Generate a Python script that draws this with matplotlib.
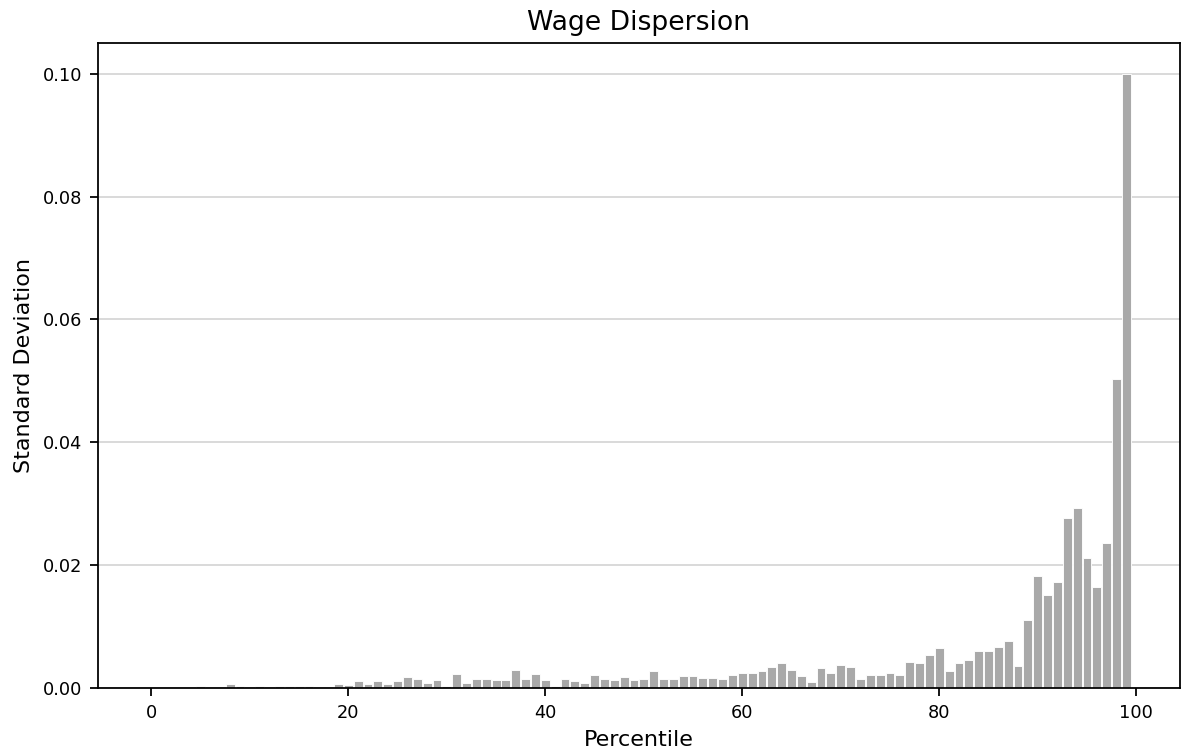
import numpy as np
import matplotlib
matplotlib.use("Agg")
import matplotlib.pyplot as plt

percentiles = list(range(100))
std_dev = [
    0.0000, 0.0000, 0.0000, 0.0000, 0.0000, 0.0003, 0.0000, 0.0000, 0.0006, 0.0003,
    0.0000, 0.0003, 0.0000, 0.0003, 0.0003, 0.0003, 0.0003, 0.0000, 0.0000, 0.0007,
    0.0005, 0.0011, 0.0006, 0.0011, 0.0007, 0.0011, 0.0018, 0.0015, 0.0009, 0.0013,
    0.0004, 0.0023, 0.0009, 0.0015, 0.0015, 0.0013, 0.0013, 0.0029, 0.0015, 0.0023,
    0.0013, 0.0004, 0.0015, 0.0011, 0.0009, 0.0021, 0.0015, 0.0013, 0.0018, 0.0013,
    0.0015, 0.0027, 0.0015, 0.0015, 0.0020, 0.0020, 0.0017, 0.0017, 0.0015, 0.0022,
    0.0024, 0.0024, 0.0027, 0.0035, 0.0040, 0.0029, 0.0020, 0.0010, 0.0033, 0.0024,
    0.0038, 0.0035, 0.0015, 0.0022, 0.0022, 0.0024, 0.0022, 0.0042, 0.0040, 0.0054,
    0.0065, 0.0027, 0.0040, 0.0045, 0.0061, 0.0061, 0.0067, 0.0077, 0.0036, 0.0111,
    0.0183, 0.0152, 0.0172, 0.0277, 0.0293, 0.0211, 0.0165, 0.0236, 0.0503, 0.1000,
]
ytick_vals = [0, 0.02, 0.04, 0.06, 0.08, 0.10]
ytick_labels = ["0.00", "0.02", "0.04", "0.06", "0.08", "0.10"]

DPI = 160
fig, ax = plt.subplots(figsize=(1182 / DPI, 756 / DPI), dpi=DPI)
fig.subplots_adjust(left=0.0827, right=0.9983, top=0.9431, bottom=0.0899)
ax.bar(percentiles, std_dev, width=0.9, color="darkgray", edgecolor="white",
       linewidth=0.4, zorder=2)
ax.yaxis.grid(True, color="#d0d0d0", linewidth=0.7, zorder=0)
ax.set_axisbelow(True)
ax.set_title("Wage Dispersion", fontsize=12)
ax.set_xlabel("Percentile", fontsize=10)
ax.set_ylabel("Standard Deviation", fontsize=10)
ax.tick_params(labelsize=8)
ax.set_yticks(ytick_vals)
ax.set_yticklabels(ytick_labels)
fig.savefig("out.png", dpi=DPI)
